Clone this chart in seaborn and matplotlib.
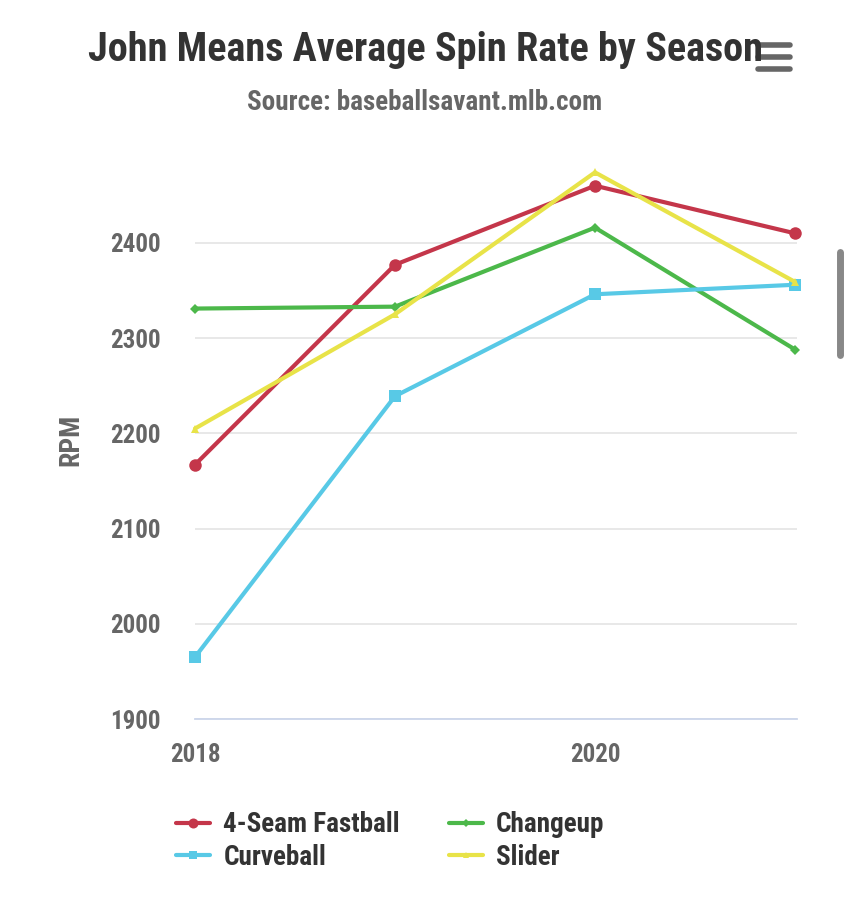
import pandas as pd
import matplotlib.pyplot as plt
import seaborn as sns
from matplotlib import font_manager
from matplotlib.lines import Line2D

# spin rate per season
seasons = [2018, 2019, 2020, 2021]
fastball = [2167, 2377, 2460, 2410]
changeup = [2331, 2333, 2416, 2288]
curveball = [1965, 2239, 2346, 2356]
slider = [2205, 2325, 2474, 2359]

pitches = ["4-Seam Fastball", "Changeup", "Curveball", "Slider"]
colors = ["#c4364a", "#4cb84a", "#58c9e6", "#e8e348"]
markers = ["o", "D", "s", "^"]
msizes = [9, 5, 8, 6]

# pick a condensed font if there is one
names = {f.name for f in font_manager.fontManager.ttflist}
font = "Roboto"
for cand in ["Roboto Condensed", "Liberation Sans Narrow"]:
    if cand in names:
        font = cand
        break

df = pd.DataFrame({
    "season": seasons * 4,
    "rpm": fastball + changeup + curveball + slider,
    "pitch": [p for p in pitches for _ in seasons],
})

sns.set_style("white")
plt.rcParams["font.family"] = [font, "DejaVu Sans"]
plt.rcParams["font.weight"] = "bold"

fig = plt.figure(figsize=(8.5, 9.05), dpi=100)
ax = fig.add_axes([195 / 850, 1 - 719 / 905, (797 - 195) / 850, (719 - 160) / 905])

for p, c, m, s in zip(pitches, colors, markers, msizes):
    sns.lineplot(data=df[df["pitch"] == p], x="season", y="rpm", ax=ax,
                 color=c, marker=m, markersize=s, markeredgewidth=0,
                 linewidth=3, legend=False, zorder=3, clip_on=False)

ax.set_xlim(2018, 2021.01)
ax.set_ylim(1900, 2487)
ax.set_yticks([1900, 2000, 2100, 2200, 2300, 2400])
ax.set_xticks([2018, 2020])
ax.set_xticklabels(["2018", "2020"])
ax.yaxis.grid(True, color="#e6e6e6", linewidth=1.3)
ax.xaxis.grid(False)
for side in ["top", "right", "left"]:
    ax.spines[side].set_visible(False)
ax.spines["bottom"].set_color("#ccd6eb")
ax.spines["bottom"].set_linewidth(1.3)
ax.tick_params(axis="x", length=9, width=1.3, color="#ccd6eb", direction="out",
               labelsize=18, labelcolor="#666666", pad=8)
ax.tick_params(axis="y", length=0, labelsize=18, labelcolor="#666666", pad=25)
ax.set_xlabel("")
ax.set_ylabel("RPM", fontsize=20, color="#666666", fontweight="bold", labelpad=18)

fig.text(0.5, 1 - 50 / 905, "John Means Average Spin Rate by Season", ha="center",
         va="center", fontsize=29, fontweight="bold", color="#333333")
fig.text(0.5, 1 - 103 / 905, "Source: baseballsavant.mlb.com", ha="center",
         va="center", fontsize=19.5, fontweight="bold", color="#666666")

# legend at the bottom
order = [0, 2, 1, 3]
handles = [Line2D([0], [0], color=colors[i], linewidth=3, marker=markers[i],
                  markersize=msizes[i] * 0.8, markeredgewidth=0) for i in order]
fig.legend(handles, [pitches[i] for i in order], ncol=2, loc="center",
           bbox_to_anchor=(0.459, 1 - 841 / 905), frameon=False,
           labelcolor="#333333", handlelength=1.25, columnspacing=1.8,
           labelspacing=0.2, handletextpad=0.5, prop={"weight": "bold", "size": 19.5})

# menu icon and scrollbar
for yy in [45, 57, 69]:
    fig.add_artist(Line2D([758 / 850, 790 / 850], [1 - yy / 905] * 2, color="#666666",
                          linewidth=4, solid_capstyle="round"))
fig.add_artist(Line2D([840 / 850] * 2, [1 - 252 / 905, 1 - 355 / 905], color="#888888",
                      linewidth=5, solid_capstyle="round"))

fig.savefig("out.png", dpi=100, facecolor="white")
